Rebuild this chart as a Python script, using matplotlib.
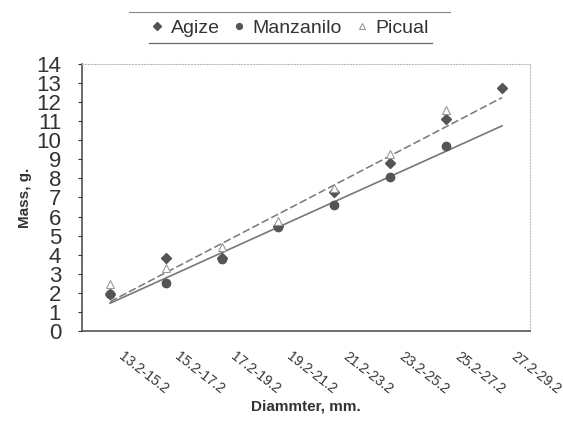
import numpy as np
import matplotlib.pyplot as plt
import matplotlib.transforms as mtransforms
from matplotlib.lines import Line2D

categories = ["13.2-15.2", "15.2-17.2", "17.2-19.2", "19.2-21.2",
              "21.2-23.2", "23.2-25.2", "25.2-27.2", "27.2-29.2"]
agize = [1.95, 3.85, 3.85, 5.5, 7.3, 8.8, 11.1, 12.74]
manzanilo = [1.95, 2.5, 3.8, 5.45, 6.6, 8.08, 9.7]
picual = [2.45, 3.3, 4.4, 5.75, 7.5, 9.3, 11.6]

plt.rcParams['font.family'] = ['Liberation Sans', 'DejaVu Sans']

fig = plt.figure(figsize=(5.63, 4.23), dpi=100)
ax = fig.add_axes([0.1456, 0.2175, 0.7958, 0.6312])

x_all = np.arange(len(categories))
x_a = x_all[:len(agize)]
x_m = x_all[:len(manzanilo)]
x_p = x_all[:len(picual)]

# linear trendlines, extended over all categories
ka = np.polyfit(x_a, agize, 1)
km = np.polyfit(x_m, manzanilo, 1)
ax.plot(x_all, np.polyval(ka, x_all), color='#777777', lw=1.1, ls=(0, (5, 2)), zorder=2)
ax.plot(x_all, np.polyval(km, x_all), color='#777777', lw=1.2, zorder=2)

ax.plot(x_a, agize, ls='none', marker='D', ms=5.5, color='#555555', label='Agize', zorder=3)
ax.plot(x_m, manzanilo, ls='none', marker='o', ms=6, color='#555555', label='Manzanilo', zorder=3)
ax.plot(x_p, picual, ls='none', marker='^', ms=5.5, mfc='white', mec='#999999', mew=0.8,
        label='Picual', zorder=4)

ax.set_xlim(-0.5, len(categories) - 0.5)
ax.set_ylim(0, 14)
ax.set_yticks(range(0, 15))
ax.tick_params(axis='y', labelsize=16, length=3, pad=12, colors='#333333')
ax.tick_params(axis='x', length=0, pad=13)
ax.set_xticks(x_all)
ax.set_xticklabels(categories, rotation=-38, ha='left', va='top',
                   rotation_mode='anchor', fontsize=10, color='#333333')
offset = mtransforms.ScaledTranslation(0.15, 0, fig.dpi_scale_trans)
for lab in ax.get_xticklabels():
    lab.set_transform(lab.get_transform() + offset)

for s in ['left', 'bottom']:
    ax.spines[s].set_color('#444444')
    ax.spines[s].set_linewidth(1.1)
for s in ['top', 'right']:
    ax.spines[s].set_color('#bbbbbb')
    ax.spines[s].set_linestyle(':')

ax.set_ylabel("Mass, g.", fontsize=11, fontweight='bold', color='#333333', labelpad=3)
ax.set_xlabel("Diammter, mm.", fontsize=11, fontweight='bold', color='#333333', labelpad=2)

leg = fig.legend(loc='center', bbox_to_anchor=(0.515, 0.933), ncol=3, fontsize=14,
                 frameon=False, handlelength=0.6, handletextpad=0.4, columnspacing=0.7,
                 markerscale=0.7, borderpad=0.3)
for t in leg.get_texts():
    t.set_color('#333333')

# legend rules above and below
fig.add_artist(Line2D([0.23, 0.80], [0.972, 0.972], transform=fig.transFigure,
                      color='#888888', lw=0.8))
fig.add_artist(Line2D([0.265, 0.768], [0.898, 0.898], transform=fig.transFigure,
                      color='#666666', lw=0.9))

fig.savefig("out.png", dpi=100)
